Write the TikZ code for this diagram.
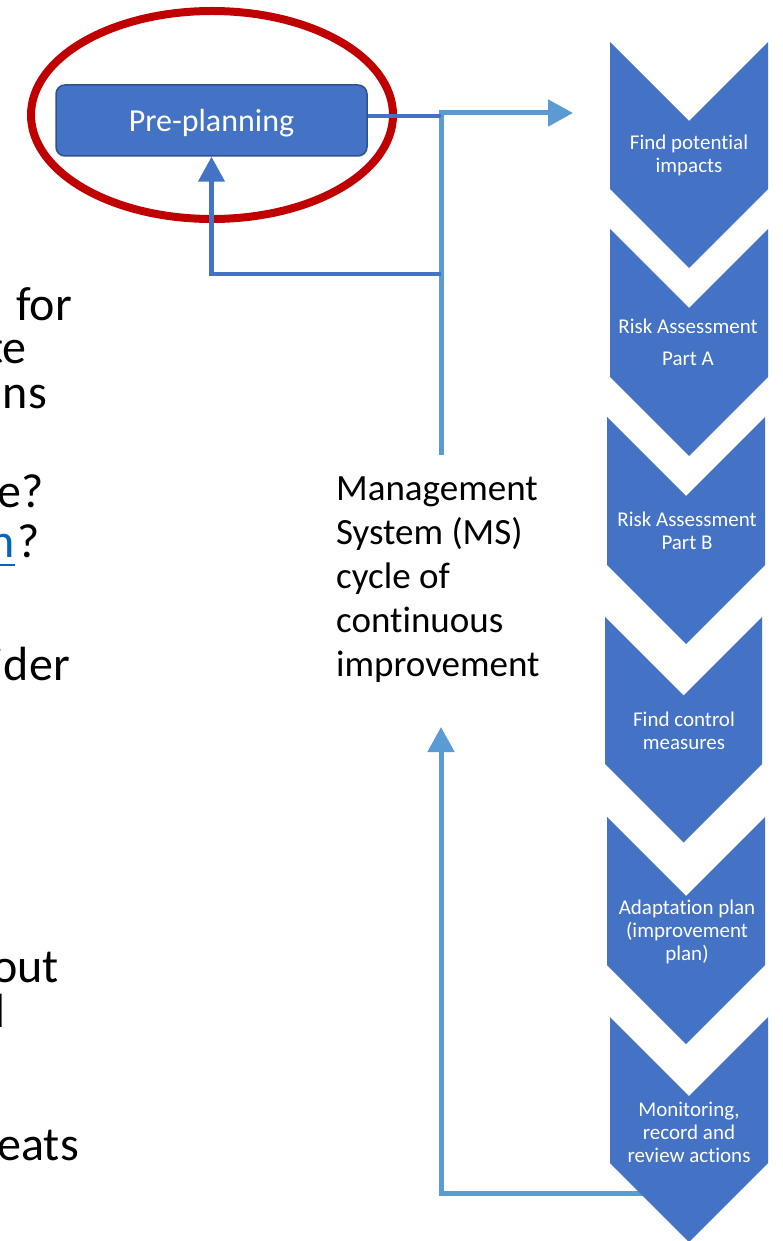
\documentclass[tikz,border=0pt]{standalone}
\usepackage{fontspec}
\setmainfont{Carlito}[Ligatures={NoCommon}]
\usetikzlibrary{arrows.meta}

\definecolor{accent}{HTML}{4472C4}
\definecolor{accentlt}{HTML}{5B9BD5}
\definecolor{accentdk}{HTML}{2F528F}
\definecolor{ringred}{HTML}{C00000}
\definecolor{linkblue}{HTML}{0563C1}

% chevron: left x, right x, top y, lower side y (pointer depth = half width)
\newcommand\chevshape[4]{%
  \fill[accent] (#1,#3) -- ({(#1+#2)/2},{#3+(#2-#1)/2}) -- (#2,#3)
    -- (#2,#4) -- ({(#1+#2)/2},{#4+(#2-#1)/2}) -- (#1,#4) -- cycle;}

\begin{document}
\begin{tikzpicture}[x=1pt,y=-1pt,
  darkline/.style={draw=accent, line width=4.5},
  lightline/.style={draw=accentlt, line width=5},
  tip/.style={-{Triangle[width=26,length=25]}},
  ppbox/.style={draw=accentdk, line width=1.5, fill=accent, rounded corners=9,
    minimum width=311, minimum height=71, text=white, inner sep=0,
    text depth=0pt, font=\fontsize{32}{38}\selectfont},
  chevtext/.style={text=white, align=center, inner sep=0,
    font=\fontsize{21}{23}\selectfont},
  mstext/.style={align=left, inner sep=0, anchor=north west,
    font=\fontsize{37}{44}\selectfont},
  cuttext/.style={anchor=base east, inner sep=0,
    font=\fontsize{48}{44}\selectfont}]
\useasboundingbox (0,0) rectangle (782,1241);
\fill[white] (0,0) rectangle (782,1241);

% text running off the left edge
\begin{scope}
\clip (0,0) rectangle (782,1241);
\node[cuttext] (t1) at (72,320) {for};
\node[cuttext] (t2) at (27,363) {te};
\node[cuttext] (t3) at (47,408) {ns};
\node[cuttext] (t4) at (44,507) {re?};
\node[cuttext] (t5) at (40,557) {?};
\node[cuttext, text=linkblue] (t5n) at ([xshift=-2]t5.base west) {n};
\draw[linkblue, line width=2.5] ([yshift=-8]t5n.base west) -- ([yshift=-8]t5n.base east);
\node[cuttext] (t6) at (70,680) {ider};
\node[cuttext] (t7) at (59,982) {out};
\node[cuttext] (t8) at (6,1027) {l};
\node[cuttext] (t9) at (79,1160) {eats};
\end{scope}

% pre-planning step and its highlight ring
\node[ppbox] (pre) at (211.5,120.5) {Pre-planning};
\draw[ringred, line width=8] (212,115) ellipse [x radius=181, y radius=104];

% junction points of the cycle lines
\coordinate (j1) at (441,116);
\coordinate (j2) at (441,274);
\coordinate (mstop) at (441,455);
\coordinate (c1in) at (573,113);
\coordinate (msbot) at (441,727);
\coordinate (c6out) at (650,1193);

\draw[lightline, tip] (mstop) |- (c1in);
\draw[darkline] (pre.east |- j1) -- (j1);
\draw[darkline, tip] (j2) -| (pre.south);
\draw[lightline, tip] (c6out) -| (msbot);

\node[mstext] (ms) at (336,477)
  {Management\\System (MS)\\cycle of\\continuous\\improvement};

% process chevrons
\chevshape{610}{768}{42}{189}
\chevshape{610}{768}{229}{377}
\chevshape{607}{765}{417}{565}
\chevshape{605}{762}{617}{764}
\chevshape{607}{765}{817}{965}
\chevshape{610}{768}{1017}{1163}

\node[chevtext] (c1) at (689,155) {Find potential\\impacts};
\node[chevtext] (c2) at (688,342) {Risk Assessment\\[9pt]Part A};
\node[chevtext] (c3) at (687,531) {Risk Assessment\\Part B};
\node[chevtext] (c4) at (684,731) {Find control\\measures};
\node[chevtext] (c5) at (687,932) {Adaptation plan\\(improvement\\plan)};
\node[chevtext] (c6) at (689,1132) {Monitoring,\\record and\\review actions};
\end{tikzpicture}
\end{document}
